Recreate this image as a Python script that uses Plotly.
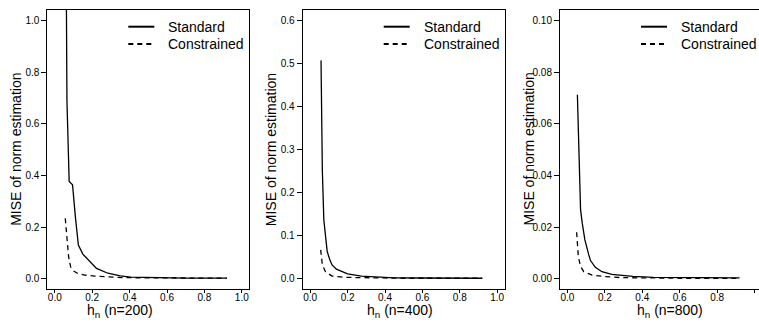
import plotly.graph_objects as go

W, H = 759, 323

# ---------------- data ----------------
h_std_200 = [0.058, 0.065, 0.077, 0.095, 0.11, 0.126, 0.15, 0.187, 0.223, 0.284, 0.35, 0.407, 0.5, 0.6, 0.7, 0.8, 0.92]
mise_std_200 = [1.6, 0.69, 0.376, 0.363, 0.24, 0.13, 0.095, 0.066, 0.040, 0.021, 0.011, 0.006, 0.004, 0.003, 0.002, 0.002, 0.002]
h_con_200 = [0.056, 0.065, 0.074, 0.085, 0.10, 0.126, 0.16, 0.214, 0.30, 0.37, 0.5, 0.7, 0.92]
mise_con_200 = [0.234, 0.15, 0.085, 0.045, 0.030, 0.019, 0.014, 0.010, 0.006, 0.004, 0.003, 0.002, 0.002]

h_std_400 = [0.058, 0.065, 0.073, 0.082, 0.091, 0.105, 0.117, 0.14, 0.17, 0.2, 0.274, 0.35, 0.45, 0.6, 0.75, 0.92]
mise_std_400 = [0.507, 0.252, 0.136, 0.09, 0.063, 0.044, 0.032, 0.022, 0.016, 0.011, 0.006, 0.004, 0.002, 0.0015, 0.001, 0.001]
h_con_400 = [0.056, 0.065, 0.082, 0.117, 0.187, 0.3, 0.5, 0.7, 0.92]
mise_con_400 = [0.067, 0.032, 0.016, 0.006, 0.003, 0.002, 0.001, 0.001, 0.001]

h_std_800 = [0.053, 0.058, 0.065, 0.070, 0.079, 0.093, 0.114, 0.123, 0.149, 0.184, 0.237, 0.289, 0.35, 0.46, 0.6, 0.75, 0.92]
mise_std_800 = [0.0712, 0.055, 0.0383, 0.0266, 0.0215, 0.015, 0.0092, 0.0070, 0.0044, 0.0027, 0.0017, 0.0012, 0.0009, 0.0005, 0.0004, 0.0003, 0.0003]
h_con_800 = [0.049, 0.058, 0.070, 0.087, 0.132, 0.20, 0.29, 0.45, 0.7, 0.92]
mise_con_800 = [0.018, 0.0085, 0.0047, 0.0027, 0.0014, 0.0008, 0.0004, 0.0002, 0.0001, 0.0001]

sample_sizes = ["200", "400", "800"]
series_names = ["Standard", "Constrained"]
x_ticks = [0.0, 0.2, 0.4, 0.6, 0.8, 1.0]
y_ticks = [[0.0, 0.2, 0.4, 0.6, 0.8, 1.0],
           [0.0, 0.1, 0.2, 0.3, 0.4, 0.5, 0.6],
           [0.00, 0.02, 0.04, 0.06, 0.08, 0.10]]
y_fmt = [".1f", ".1f", ".2f"]
y_lims = [(0, 1.0), (0, 0.6), (0, 0.10)]

panels = [
    (h_std_200, mise_std_200, h_con_200, mise_con_200),
    (h_std_400, mise_std_400, h_con_400, mise_con_400),
    (h_std_800, mise_std_800, h_con_800, mise_con_800),
]

# ---------------- layout geometry (pixels) ----------------
box_left = [47.3, 302.7, 560.0]
xtitle_cx = [120, 400, 670]
box_w = 202.0
box_top, box_bot = 10.0, 289.0
FONT = "Liberation Sans, Arial, Helvetica, sans-serif"


def px(x):
    return x / W


def py(y):
    return 1 - y / H


fig = go.Figure()
layout = dict(
    width=W, height=H, margin=dict(l=0, r=0, t=0, b=0),
    paper_bgcolor="white", plot_bgcolor="white", showlegend=False,
    font=dict(family=FONT, color="black"),
)
shapes, annotations = [], []

for i, (hs, ms, hc, mc) in enumerate(panels):
    k = "" if i == 0 else str(i + 1)
    xa, ya = "x" + k, "y" + k
    L = box_left[i]
    R = min(L + box_w, W)
    unit = box_w / 1.08
    xr = [-0.04, -0.04 + (R - L) / unit]
    lo, hi = y_lims[i]
    pad = 0.04 * (hi - lo)

    fig.add_trace(go.Scatter(x=hs, y=ms, mode="lines", xaxis=xa, yaxis=ya,
                             line=dict(color="black", width=1.3), name=series_names[0]))
    fig.add_trace(go.Scatter(x=hc, y=mc, mode="lines", xaxis=xa, yaxis=ya,
                             line=dict(color="black", width=1.3, dash="5px,4px"), name=series_names[1]))

    layout["xaxis" + k] = dict(
        domain=[px(L), px(R)], range=xr, anchor=ya,
        tickvals=x_ticks, tickformat=".1f", ticks="outside", ticklen=3, tickwidth=1,
        tickcolor="black", showline=True, linecolor="black", linewidth=1,
        mirror=True, showgrid=False, zeroline=False, ticklabelstandoff=-4,
        tickfont=dict(size=10, family=FONT, color="black"),
    )
    layout["yaxis" + k] = dict(
        domain=[py(box_bot), py(box_top)], range=[lo - pad, hi + pad], anchor=xa,
        tickvals=y_ticks[i], tickformat=y_fmt[i], ticks="outside", ticklen=5, tickwidth=1,
        tickcolor="black", showline=True, linecolor="black", linewidth=1,
        mirror=(i < 2), showgrid=False, zeroline=False,
        tickfont=dict(size=10, family=FONT, color="black"),
    )

    # axis titles
    annotations.append(dict(text="MISE of norm estimation", textangle=-90,
                            x=px(L - 32), y=py((box_top + box_bot) / 2),
                            xref="paper", yref="paper", showarrow=False,
                            xanchor="center", yanchor="middle",
                            font=dict(size=14, family=FONT, color="black")))
    annotations.append(dict(text="h<sub>n</sub> (n=%s)" % sample_sizes[i],
                            x=px(xtitle_cx[i]), y=py(310.5),
                            xref="paper", yref="paper", showarrow=False,
                            xanchor="center", yanchor="middle",
                            font=dict(size=14, family=FONT, color="black")))

    # legend
    for j, (yy, dash, nm) in enumerate([(26.7, "solid", series_names[0]),
                                        (44.0, "5px,4px", series_names[1])]):
        shapes.append(dict(type="line", xref="paper", yref="paper",
                           x0=px(L + 81), x1=px(L + 107), y0=py(yy), y1=py(yy),
                           line=dict(color="black", width=2, dash=dash)))
        annotations.append(dict(text=nm, x=px(L + 119), y=py(yy),
                                xref="paper", yref="paper", showarrow=False,
                                xanchor="left", yanchor="middle",
                                font=dict(size=14, family=FONT, color="black")))

layout["shapes"] = shapes
layout["annotations"] = annotations
fig.update_layout(**layout)
fig.write_html("out.html", config={"displayModeBar": False},
               post_script="document.body.style.margin='0px';document.body.style.overflow='hidden';")
